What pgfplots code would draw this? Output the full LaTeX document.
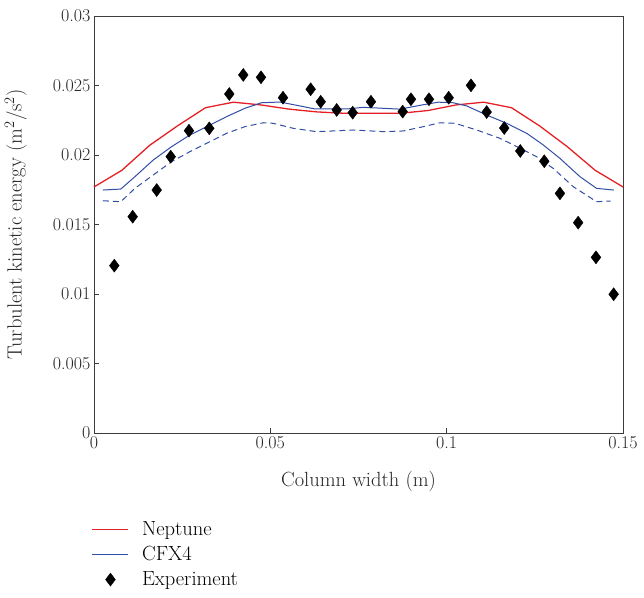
\documentclass[border=0pt]{standalone}
\usepackage{fontspec}
\usepackage{pgfplots}
\pgfplotsset{compat=1.18}

\definecolor{neptred}{RGB}{228,32,38}
\definecolor{cfxblue}{RGB}{50,78,165}
\definecolor{framegray}{RGB}{60,60,60}

\begin{document}
\begin{tikzpicture}
\begin{axis}[
  name=ax,
  scale only axis,
  width=529pt,
  height=417pt,
  xmin=0, xmax=0.15,
  ymin=0, ymax=0.03,
  xtick={0,0.05,0.1,0.15},
  ytick={0,0.005,0.01,0.015,0.02,0.025,0.03},
  scaled ticks=false,
  /pgf/number format/fixed,
  /pgf/number format/precision=3,
  /pgf/number format/assume math mode=true,
  tick pos=left,
  tick align=inside,
  major tick length=5pt,
  axis line style={framegray, line width=0.9pt},
  tick style={framegray, line width=0.9pt},
  tick label style={font=\fontsize{18}{21}\selectfont, text=black!85},
  label style={font=\fontsize{20.5}{24}\selectfont, text=black!85},
  xlabel={Column width (m)},
  ylabel={Turbulent kinetic energy (m\textsuperscript{2}/s\textsuperscript{2})},
  xlabel style={at={(axis description cs:0.5,-0.115)}, anchor=center},
  ylabel style={at={(axis description cs:-0.148,0.5)}, anchor=center},
  legend style={at={(axis description cs:-0.0045,-0.207)}, anchor=north west,
    draw=none, fill=none, inner sep=0pt, row sep=5.5pt,
    font=\fontsize{20.5}{24}\selectfont},
  legend cell align=left,
  legend image code/.code={%
    \draw[mark repeat=2,mark phase=2,#1] plot coordinates {(0pt,0pt) (18pt,0pt) (36pt,0pt)};
    \path (47pt,0pt);},
  clip=false,
]
% Neptune
\addplot[color=neptred, line width=1.3pt] coordinates {
(0,0.0177) (0.0079,0.0189) (0.0158,0.0207) (0.0237,0.0221) (0.0316,0.0234)
(0.0395,0.0238) (0.0474,0.0236) (0.0553,0.0233) (0.0632,0.0231) (0.0711,0.0230)
(0.0789,0.0230) (0.0868,0.0230) (0.0947,0.0232) (0.1026,0.0236) (0.1105,0.0238)
(0.1184,0.0234) (0.1263,0.0221) (0.1342,0.0206) (0.1421,0.0189) (0.15,0.0177)
};
\addlegendentry{Neptune}
% CFX4
\addplot[color=cfxblue, line width=1pt] coordinates {
(0.0025,0.01748) (0.0076,0.01755) (0.0116,0.01844) (0.0168,0.01964) (0.0220,0.0206)
(0.0272,0.02144) (0.0329,0.02216) (0.0376,0.02276) (0.0428,0.02336) (0.0475,0.02376)
(0.0527,0.02381) (0.0580,0.02355) (0.0627,0.02331) (0.0716,0.02331) (0.0764,0.02343)
(0.0868,0.02330) (0.0930,0.02360) (0.0976,0.02380) (0.1018,0.02376) (0.1057,0.02353)
(0.1113,0.02288) (0.1170,0.02228) (0.1227,0.02156) (0.1274,0.02072) (0.1321,0.01976)
(0.1378,0.01844) (0.1425,0.01760) (0.1474,0.01748)
};
\addlegendentry{CFX4}
% CFX4 dashed
\addplot[color=cfxblue, line width=1pt, dash pattern=on 6pt off 4pt, forget plot] coordinates {
(0.0025,0.01671) (0.0076,0.01664) (0.0116,0.0176) (0.0168,0.01856) (0.0220,0.01952)
(0.0272,0.02024) (0.0329,0.02096) (0.0376,0.02156) (0.0428,0.02204) (0.0480,0.02232)
(0.0508,0.02228) (0.0565,0.02192) (0.0631,0.02168) (0.0678,0.02173) (0.0735,0.02180)
(0.0820,0.02168) (0.0877,0.02173) (0.0934,0.02204) (0.0981,0.02232) (0.1024,0.02228)
(0.1085,0.02180) (0.1151,0.02120) (0.1199,0.02060) (0.1255,0.01988) (0.1302,0.01904)
(0.1359,0.01772) (0.1425,0.01664) (0.1465,0.01669)
};
% Experiment
\addplot[only marks, mark=diamond*, mark size=6.5pt, color=black, mark options={fill=black}] coordinates {
(0.00576,0.01204) (0.01097,0.01556) (0.01778,0.01748) (0.02175,0.01988) (0.02693,0.02175)
(0.03269,0.02192) (0.03836,0.02439) (0.04233,0.02576) (0.04735,0.02559) (0.05359,0.02412)
(0.06144,0.02473) (0.06428,0.02383) (0.06881,0.02324) (0.07335,0.02304) (0.07854,0.02383)
(0.08753,0.02312) (0.08988,0.02401) (0.09498,0.02401) (0.10057,0.02412) (0.10689,0.02501)
(0.11134,0.02309) (0.11633,0.02194) (0.12087,0.02029) (0.12767,0.01955) (0.13212,0.01724)
(0.13728,0.01513) (0.14233,0.01264) (0.14735,0.00998)
};
\addlegendentry{Experiment}
\end{axis}
\pgfresetboundingbox
\path[use as bounding box] ([xshift=-94pt,yshift=-164pt]ax.south west) rectangle ([xshift=21pt,yshift=16pt]ax.north east);
\end{tikzpicture}
\end{document}
